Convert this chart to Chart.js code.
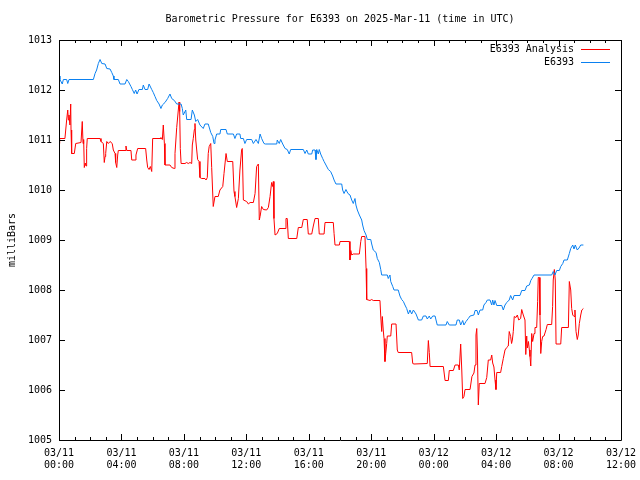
<!DOCTYPE html>
<html><head><meta charset="utf-8">
<script src="https://cdn.jsdelivr.net/npm/chart.js@4.4.1/dist/chart.umd.min.js"></script>
<style>html,body{margin:0;padding:0;background:#fff;}#wrap{width:640px;height:480px;}</style>
</head><body><div id="wrap"><canvas id="c" width="640" height="480"></canvas></div>
<script>
const chartTitle = 'Barometric Pressure for E6393 on 2025-Mar-11 (time in UTC)';
const yAxisTitle = 'milliBars';
const seriesNames = ['E6393 Analysis', 'E6393'];
const xTickDates = ['03/11','03/11','03/11','03/11','03/11','03/11','03/12','03/12','03/12','03/12'];
const xTickTimes = ['00:00','04:00','08:00','12:00','16:00','20:00','00:00','04:00','08:00','12:00'];
const yTickLabels = ['1005','1006','1007','1008','1009','1010','1011','1012','1013'];
const hourRange = [0, 36];
const pressureRange = [1005, 1013];

// [hours since 03/11 00:00 UTC, millibars]
const analysisReadings = [[0,1010.93],[0.03,1011.01],[0.06,1011.03],[0.38,1011.03],[0.49,1011.40],[0.56,1011.60],[0.60,1011.40],[0.64,1011.50],[0.70,1011.30],[0.75,1011.72],[0.77,1011.20],[0.81,1010.73],[0.98,1010.73],[1.07,1010.93],[1.41,1010.95],[1.49,1011.37],[1.54,1010.93],[1.58,1011.01],[1.62,1010.45],[1.68,1010.54],[1.73,1010.48],[1.77,1010.83],[1.81,1011.03],[2.63,1011.03],[2.69,1010.97],[2.84,1010.93],[2.90,1010.55],[2.95,1010.67],[2.99,1010.73],[3.06,1010.97],[3.16,1010.93],[3.27,1010.97],[3.41,1010.93],[3.48,1010.80],[3.59,1010.73],[3.63,1010.55],[3.70,1010.45],[3.76,1010.70],[3.80,1010.79],[4.23,1010.79],[4.29,1010.88],[4.34,1010.79],[4.61,1010.79],[4.66,1010.60],[4.87,1010.60],[4.93,1010.70],[5.04,1010.83],[5.55,1010.83],[5.62,1010.60],[5.68,1010.45],[5.77,1010.41],[5.85,1010.47],[5.94,1010.37],[6.00,1011.03],[6.47,1011.03],[6.53,1011.05],[6.62,1011.01],[6.68,1011.30],[6.75,1010.93],[6.79,1010.50],[7.11,1010.50],[7.22,1010.45],[7.39,1010.43],[7.43,1010.73],[7.54,1011.25],[7.69,1011.76],[7.73,1011.57],[7.77,1010.83],[7.82,1010.53],[8.07,1010.53],[8.18,1010.55],[8.28,1010.53],[8.39,1010.55],[8.50,1010.53],[8.54,1010.90],[8.60,1011.03],[8.67,1011.21],[8.71,1011.33],[8.76,1011.00],[8.88,1010.61],[8.97,1010.57],[9.03,1010.25],[9.14,1010.23],[9.35,1010.23],[9.42,1010.20],[9.50,1010.25],[9.56,1010.73],[9.62,1010.87],[9.72,1010.93],[9.78,1010.45],[9.88,1009.67],[9.99,1009.87],[10.20,1009.87],[10.31,1010.00],[10.49,1010.07],[10.57,1010.33],[10.70,1010.73],[10.78,1010.57],[11.13,1010.57],[11.21,1009.97],[11.27,1009.87],[11.38,1009.65],[11.49,1009.83],[11.59,1010.40],[11.70,1010.81],[11.74,1010.83],[11.81,1009.80],[12.02,1009.77],[12.13,1009.72],[12.24,1009.75],[12.45,1009.75],[12.56,1009.93],[12.66,1010.47],[12.77,1010.52],[12.83,1009.40],[12.88,1009.47],[12.98,1009.67],[13.09,1009.61],[13.30,1009.60],[13.41,1009.65],[13.52,1009.87],[13.62,1010.15],[13.69,1010.07],[13.73,1010.17],[13.77,1009.43],[13.84,1009.10],[13.98,1009.13],[14.11,1009.23],[14.48,1009.23],[14.54,1009.43],[14.62,1009.43],[14.69,1009.03],[15.23,1009.03],[15.33,1009.25],[15.55,1009.25],[15.65,1009.41],[15.90,1009.41],[15.97,1009.12],[16.19,1009.12],[16.29,1009.28],[16.40,1009.43],[16.61,1009.43],[16.67,1009.12],[16.98,1009.12],[17.04,1009.35],[17.57,1009.35],[17.62,1009.13],[17.68,1008.90],[17.96,1008.90],[18.00,1008.97],[18.60,1008.97],[18.64,1008.60],[18.69,1008.79],[18.75,1008.70],[18.85,1008.72],[19.24,1008.72],[19.33,1008.97],[19.39,1009.07],[19.60,1009.07],[19.67,1008.43],[19.71,1007.81],[19.92,1007.79],[20.03,1007.81],[20.13,1007.79],[20.56,1007.79],[20.61,1007.48],[20.67,1007.17],[20.71,1007.47],[20.77,1007.20],[20.82,1007.03],[20.88,1006.57],[20.93,1006.73],[20.99,1006.93],[21.03,1007.08],[21.25,1007.08],[21.31,1007.32],[21.59,1007.32],[21.67,1006.80],[21.73,1006.75],[22.59,1006.75],[22.66,1006.53],[22.74,1006.52],[23.59,1006.53],[23.66,1006.99],[23.72,1006.75],[23.77,1006.47],[24.62,1006.47],[24.73,1006.19],[24.94,1006.19],[25.00,1006.39],[25.26,1006.39],[25.37,1006.50],[25.58,1006.50],[25.64,1006.40],[25.73,1006.92],[25.80,1006.40],[25.86,1005.83],[25.94,1005.87],[26.01,1006.01],[26.33,1006.01],[26.45,1006.27],[26.58,1006.34],[26.65,1006.50],[26.71,1007.10],[26.76,1007.23],[26.80,1006.80],[26.86,1005.70],[26.92,1006.13],[27.29,1006.13],[27.40,1006.25],[27.50,1006.60],[27.65,1006.60],[27.72,1006.70],[27.78,1006.54],[27.86,1006.46],[27.93,1006.20],[27.99,1006.01],[28.04,1006.35],[28.29,1006.35],[28.36,1006.47],[28.46,1006.63],[28.57,1006.80],[28.68,1006.85],[28.78,1006.88],[28.84,1007.17],[28.93,1007.07],[28.99,1006.93],[29.04,1007.00],[29.10,1007.17],[29.16,1007.47],[29.27,1007.45],[29.36,1007.50],[29.45,1007.40],[29.57,1007.43],[29.64,1007.61],[29.74,1007.50],[29.85,1007.40],[29.90,1006.71],[29.96,1007.08],[30.00,1006.84],[30.07,1006.97],[30.13,1006.80],[30.17,1006.67],[30.22,1006.48],[30.28,1007.13],[30.34,1006.97],[30.43,1007.13],[30.49,1007.25],[30.60,1007.25],[30.66,1007.77],[30.70,1008.25],[30.77,1008.25],[30.81,1007.50],[30.86,1006.73],[30.92,1006.97],[30.98,1007.07],[31.07,1007.08],[31.20,1007.21],[31.28,1007.31],[31.56,1007.31],[31.62,1007.67],[31.66,1008.20],[31.73,1008.41],[31.79,1008.20],[31.84,1006.92],[32.14,1006.92],[32.20,1007.25],[32.63,1007.25],[32.69,1008.17],[32.78,1008.00],[32.84,1007.63],[32.91,1007.50],[32.99,1007.47],[33.05,1007.60],[33.12,1007.17],[33.20,1007.01],[33.26,1007.10],[33.33,1007.33],[33.42,1007.50],[33.49,1007.60],[33.59,1007.63]];

const observedReadings = [[0,1012.28],[0.06,1012.21],[0.21,1012.12],[0.28,1012.21],[0.49,1012.21],[0.56,1012.13],[0.64,1012.21],[2.20,1012.21],[2.31,1012.33],[2.41,1012.40],[2.52,1012.53],[2.63,1012.61],[2.74,1012.53],[2.95,1012.52],[3.06,1012.43],[3.27,1012.42],[3.38,1012.35],[3.48,1012.28],[3.52,1012.21],[3.80,1012.21],[3.91,1012.12],[4.23,1012.12],[4.34,1012.21],[4.44,1012.17],[4.61,1012.07],[4.70,1012.01],[4.82,1011.93],[4.91,1012.00],[5.00,1011.92],[5.12,1012.01],[5.34,1012.01],[5.40,1012.10],[5.51,1012.01],[5.68,1012.01],[5.77,1012.12],[5.94,1012.01],[6.04,1011.95],[6.15,1011.87],[6.26,1011.79],[6.41,1011.72],[6.53,1011.63],[6.62,1011.70],[6.79,1011.75],[6.96,1011.83],[7.11,1011.92],[7.22,1011.83],[7.39,1011.79],[7.54,1011.72],[7.82,1011.72],[7.90,1011.63],[7.96,1011.50],[8.12,1011.60],[8.18,1011.41],[8.46,1011.41],[8.54,1011.60],[8.67,1011.50],[8.76,1011.37],[8.88,1011.41],[9.03,1011.30],[9.24,1011.23],[9.35,1011.32],[9.56,1011.32],[9.72,1011.15],[9.85,1011.07],[9.93,1010.93],[9.99,1011.00],[10.10,1011.12],[10.31,1011.12],[10.36,1011.21],[10.70,1011.21],[10.78,1011.12],[11.17,1011.12],[11.27,1011.03],[11.38,1011.12],[11.59,1011.12],[11.64,1011.03],[11.81,1011.03],[11.91,1010.93],[12.02,1011.01],[12.34,1011.01],[12.45,1010.93],[12.62,1011.01],[12.77,1010.93],[12.88,1011.12],[12.98,1011.03],[13.13,1010.93],[13.22,1010.92],[13.95,1010.92],[13.98,1011.00],[14.11,1010.93],[14.20,1011.01],[14.33,1010.92],[14.48,1010.83],[14.62,1010.81],[14.75,1010.72],[14.84,1010.81],[15.65,1010.81],[15.76,1010.73],[15.87,1010.80],[15.97,1010.72],[16.19,1010.72],[16.25,1010.80],[16.40,1010.80],[16.46,1010.61],[16.51,1010.81],[16.61,1010.72],[16.67,1010.81],[16.76,1010.72],[16.89,1010.63],[16.98,1010.57],[17.10,1010.50],[17.25,1010.41],[17.40,1010.37],[17.53,1010.28],[17.62,1010.20],[17.74,1010.12],[18.11,1010.12],[18.17,1010.00],[18.26,1009.93],[18.38,1010.01],[18.51,1009.93],[18.64,1009.90],[18.75,1009.80],[18.85,1009.73],[18.96,1009.83],[19.02,1009.70],[19.11,1009.60],[19.24,1009.50],[19.39,1009.40],[19.45,1009.30],[19.54,1009.19],[19.67,1009.10],[19.75,1009.01],[19.97,1009.01],[20.03,1008.92],[20.13,1008.80],[20.31,1008.75],[20.39,1008.63],[20.52,1008.55],[20.61,1008.41],[20.67,1008.30],[21.03,1008.30],[21.09,1008.23],[21.20,1008.30],[21.25,1008.17],[21.38,1008.07],[21.46,1008.00],[21.73,1008.00],[21.84,1007.88],[21.95,1007.81],[22.06,1007.77],[22.16,1007.70],[22.27,1007.63],[22.38,1007.52],[22.48,1007.60],[22.59,1007.52],[22.70,1007.60],[22.87,1007.52],[23.02,1007.40],[23.23,1007.40],[23.34,1007.48],[23.51,1007.48],[23.59,1007.42],[23.72,1007.48],[23.81,1007.42],[23.94,1007.48],[24.09,1007.48],[24.15,1007.40],[24.23,1007.30],[24.79,1007.30],[24.87,1007.37],[25.00,1007.30],[25.43,1007.30],[25.51,1007.40],[25.64,1007.40],[25.73,1007.30],[25.86,1007.39],[25.94,1007.30],[26.07,1007.37],[26.22,1007.43],[26.33,1007.48],[26.58,1007.50],[26.65,1007.59],[26.78,1007.59],[26.86,1007.50],[26.97,1007.60],[27.14,1007.60],[27.22,1007.70],[27.35,1007.75],[27.44,1007.80],[27.61,1007.80],[27.72,1007.70],[27.78,1007.80],[27.86,1007.70],[27.93,1007.79],[28.04,1007.69],[28.36,1007.69],[28.46,1007.60],[28.57,1007.70],[28.68,1007.75],[28.84,1007.80],[28.93,1007.89],[29.06,1007.80],[29.15,1007.89],[29.53,1007.89],[29.64,1007.99],[29.85,1007.99],[29.96,1008.08],[30.13,1008.10],[30.22,1008.19],[30.30,1008.23],[30.43,1008.30],[31.56,1008.30],[31.66,1008.37],[31.77,1008.30],[31.88,1008.39],[32.05,1008.39],[32.14,1008.47],[32.27,1008.53],[32.35,1008.60],[32.56,1008.60],[32.69,1008.73],[32.78,1008.83],[32.91,1008.90],[32.99,1008.82],[33.07,1008.90],[33.20,1008.80],[33.31,1008.84],[33.42,1008.90],[33.59,1008.90]];

const FONT = "'DejaVu Sans Mono', 'Liberation Mono', monospace";
const toPoints = rows => rows.map(r => ({x: r[0], y: r[1]}));

const framePlugin = {
  id: 'frame',
  afterDatasetsDraw(chart) {
    const {ctx, chartArea: a, scales: {x, y}} = chart;
    ctx.save();
    ctx.strokeStyle = '#000';
    ctx.lineWidth = 1;
    ctx.beginPath();
    ctx.rect(Math.round(a.left) + 0.5, Math.round(a.top) + 0.5, Math.round(a.right - a.left), Math.round(a.bottom - a.top));
    ctx.stroke();
    ctx.beginPath();
    for (let h = hourRange[0]; h <= hourRange[1]; h++) {
      const px = Math.round(x.getPixelForValue(h)) + 0.5;
      const len = (h % 4 === 0) ? 6 : 3;
      ctx.moveTo(px, a.bottom); ctx.lineTo(px, a.bottom - len);
      ctx.moveTo(px, a.top); ctx.lineTo(px, a.top + len);
    }
    for (let v = pressureRange[0]; v <= pressureRange[1]; v++) {
      const py = Math.round(y.getPixelForValue(v)) + 0.5;
      ctx.moveTo(a.left, py); ctx.lineTo(a.left + 6, py);
      ctx.moveTo(a.right, py); ctx.lineTo(a.right - 6, py);
    }
    ctx.stroke();
    ctx.fillStyle = '#000';
    ctx.font = '10px ' + FONT;
    ctx.textBaseline = 'middle';
    ctx.textAlign = 'center';
    ctx.fillText(chartTitle, (a.left + a.right) / 2, 19);
    const colors = [chart.data.datasets[0].borderColor, chart.data.datasets[1].borderColor];
    seriesNames.forEach((name, i) => {
      const ly = 49 + i * 13;
      ctx.textAlign = 'right';
      ctx.fillStyle = '#000';
      ctx.fillText(name, a.right - 47, ly);
      ctx.strokeStyle = colors[i];
      ctx.beginPath();
      ctx.moveTo(a.right - 40, ly + 0.5);
      ctx.lineTo(a.right - 11, ly + 0.5);
      ctx.stroke();
    });
    ctx.save();
    ctx.translate(12, (a.top + a.bottom) / 2);
    ctx.rotate(-Math.PI / 2);
    ctx.textAlign = 'center';
    ctx.fillStyle = '#000';
    ctx.fillText(yAxisTitle, 0, 0);
    ctx.restore();
    ctx.restore();
  }
};

new Chart(document.getElementById('c'), {
  type: 'line',
  data: {
    datasets: [
      {label: seriesNames[0], data: toPoints(analysisReadings), borderColor: '#ff0000', borderWidth: 1, pointRadius: 0, tension: 0, order: 1},
      {label: seriesNames[1], data: toPoints(observedReadings), borderColor: '#0a80f0', borderWidth: 1, pointRadius: 0, tension: 0, order: 0}
    ]
  },
  options: {
    responsive: false,
    animation: false,
    devicePixelRatio: 1,
    parsing: false,
    layout: {padding: {top: 40, right: 19, left: 0, bottom: 0}},
    plugins: {legend: {display: false}, title: {display: false}, tooltip: {enabled: false}},
    scales: {
      x: {
        type: 'linear', min: hourRange[0], max: hourRange[1],
        grid: {display: false, drawTicks: false, tickLength: 0}, border: {display: false},
        ticks: {stepSize: 4, autoSkip: false, maxRotation: 0, padding: 7, color: '#000',
          font: {family: FONT, size: 10},
          callback: (v, i) => [xTickDates[i], xTickTimes[i]]},
        afterFit: s => { s.height = 40; s.paddingLeft = 0; s.paddingRight = 0; }
      },
      y: {
        type: 'linear', min: pressureRange[0], max: pressureRange[1],
        grid: {display: false, drawTicks: false, tickLength: 0}, border: {display: false},
        ticks: {stepSize: 1, padding: 7, color: '#000', font: {family: FONT, size: 10},
          callback: (v, i) => yTickLabels[i]},
        afterFit: s => { s.width = 59; s.paddingTop = 0; s.paddingBottom = 0; }
      }
    }
  },
  plugins: [framePlugin]
});
</script></body></html>
